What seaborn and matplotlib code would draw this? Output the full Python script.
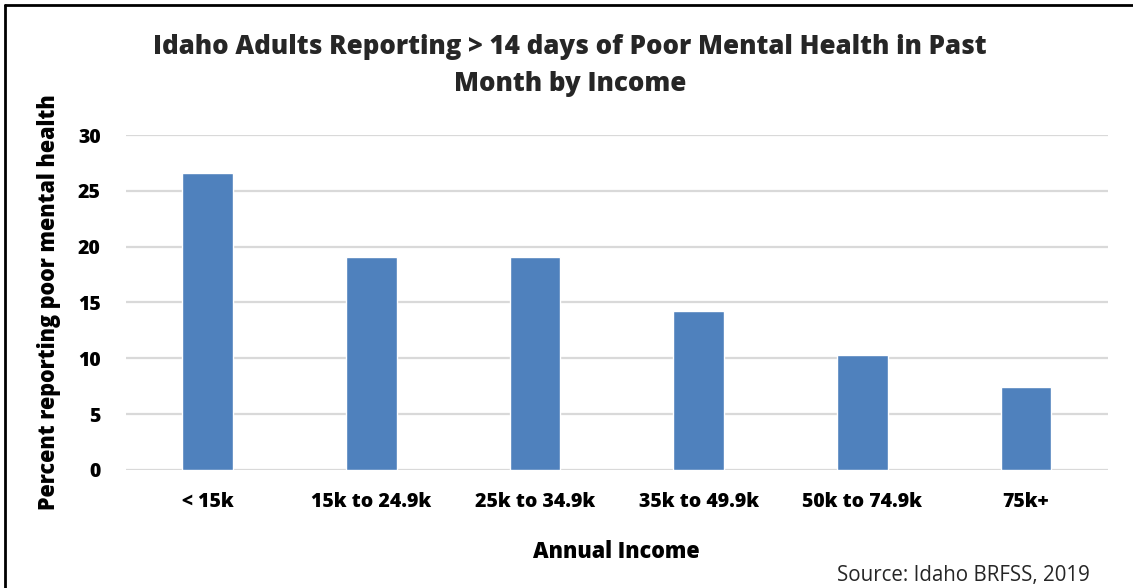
import matplotlib
matplotlib.use("Agg")
import matplotlib.pyplot as plt
from matplotlib.lines import Line2D
import seaborn as sns
import pandas as pd

income_groups = ["< 15k", "15k to 24.9k", "25k to 34.9k", "35k to 49.9k", "50k to 74.9k", "75k+"]
pct_poor_mental = [26.6, 19.1, 19.1, 14.2, 10.3, 7.4]
y_ticks = [0, 5, 10, 15, 20, 25, 30]

df = pd.DataFrame({"income": income_groups, "pct": pct_poor_mental})

sns.set_theme(style="white")
plt.rcParams["font.family"] = ["Open Sans", "DejaVu Sans"]
HEAVY = 800

fig = plt.figure(figsize=(11.33, 5.88), dpi=100)
ax = fig.add_axes([0.111, 0.2007, 0.8667, 0.5697])

sns.barplot(data=df, x="income", y="pct", color="#4f81bd", width=0.31,
            saturation=1, ax=ax, zorder=3)

ax.set_ylim(0, 30)
ax.set_xlim(-0.5, 5.5)
ax.set_yticks(y_ticks)
ax.yaxis.grid(True, color="#d9d9d9", linewidth=1.6, zorder=0)
ax.xaxis.grid(False)
for s in ax.spines.values():
    s.set_visible(False)
ax.tick_params(axis="y", length=0, pad=18, labelsize=14)
ax.tick_params(axis="x", length=0, pad=16, labelsize=14)
for lbl in ax.get_xticklabels() + ax.get_yticklabels():
    lbl.set_fontweight(HEAVY)
    lbl.set_color("black")

ax.set_xlabel("Annual Income", fontsize=15.5, fontweight=HEAVY, labelpad=20, color="black")
ax.set_ylabel("Percent reporting poor mental health", fontsize=15.5, fontweight=HEAVY,
              labelpad=12, color="black")

fig.text(0.503, 0.888, "Idaho Adults Reporting > 14 days of Poor Mental Health in Past\nMonth by Income",
         ha="center", va="center", fontsize=18.6, fontweight=HEAVY, linespacing=1.55)
fig.text(0.962, 0.021, "Source: Idaho BRFSS, 2019", ha="right", va="center", fontsize=14.8)

# frame around the chart
fig.add_artist(Line2D([5 / 1133, 5 / 1133], [0, 1 - 5 / 588], color="black", lw=2,
                      transform=fig.transFigure))
fig.add_artist(Line2D([5 / 1133, 1], [1 - 5 / 588, 1 - 5 / 588], color="black", lw=2,
                      transform=fig.transFigure))

fig.savefig("out.png", dpi=100)
